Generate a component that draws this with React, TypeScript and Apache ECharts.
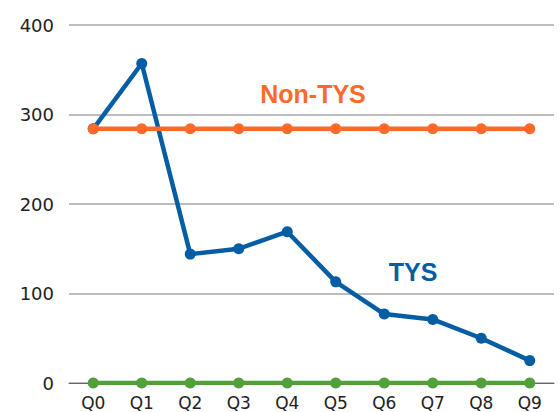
import React, { useEffect, useRef } from "react";
import * as echarts from "echarts";

const categories = ["Q0", "Q1", "Q2", "Q3", "Q4", "Q5", "Q6", "Q7", "Q8", "Q9"];
const tysValues = [284, 357, 144, 150, 169, 113, 77, 71, 50, 25];
const nonTysValues = [284, 284, 284, 284, 284, 284, 284, 284, 284, 284];
const zeroValues = [0, 0, 0, 0, 0, 0, 0, 0, 0, 0];

const BLUE = "#055ea3";
const ORANGE = "#ff6a2b";
const GREEN = "#51a03c";

export default function App() {
  const ref = useRef<HTMLDivElement>(null);
  useEffect(() => {
    if (!ref.current) return;
    const chart = echarts.init(ref.current, undefined, { renderer: "svg" });
    const mkSeries = (name: string, data: number[], color: string, z: number) => ({
      name,
      type: "line",
      data,
      z,
      symbol: "circle",
      symbolSize: 11,
      lineStyle: { width: 4.5, color },
      itemStyle: { color },
      emphasis: { disabled: true },
    });
    chart.setOption({
      animation: false,
      grid: { left: 69, right: 6, top: 25, bottom: 29, containLabel: false },
      xAxis: {
        type: "category",
        data: categories,
        boundaryGap: true,
        axisLine: { show: true, lineStyle: { color: "#666", width: 1 } },
        axisTick: { show: false },
        axisLabel: {
          color: "#222",
          fontFamily: "DejaVu Sans",
          fontSize: 17,
          margin: 11,
        },
      },
      yAxis: {
        type: "value",
        min: 0,
        max: 400,
        interval: 100,
        axisLine: { show: false },
        axisTick: { show: false },
        splitLine: { lineStyle: { color: "#bdbdbd", width: 2 } },
        axisLabel: {
          color: "#222",
          fontFamily: "DejaVu Sans",
          fontSize: 18,
          margin: 15,
        },
      },
      series: [
        mkSeries("TYS", tysValues, BLUE, 3),
        mkSeries("Non-TYS", nonTysValues, ORANGE, 4),
        mkSeries("Zero", zeroValues, GREEN, 2),
      ],
      graphic: [
        {
          type: "text",
          x: 313,
          y: 94,
          style: {
            text: "Non-TYS",
            fill: ORANGE,
            font: "bold 25px 'Liberation Sans'",
            align: "center",
            verticalAlign: "middle",
          },
        },
        {
          type: "text",
          x: 413,
          y: 272,
          style: {
            text: "TYS",
            fill: BLUE,
            font: "bold 25px 'Liberation Sans'",
            align: "center",
            verticalAlign: "middle",
          },
        },
      ],
    });
    return () => chart.dispose();
  }, []);
  return (
    <div
      ref={ref}
      style={{ position: "absolute", left: 0, top: 0, width: 560, height: 412 }}
    />
  );
}
